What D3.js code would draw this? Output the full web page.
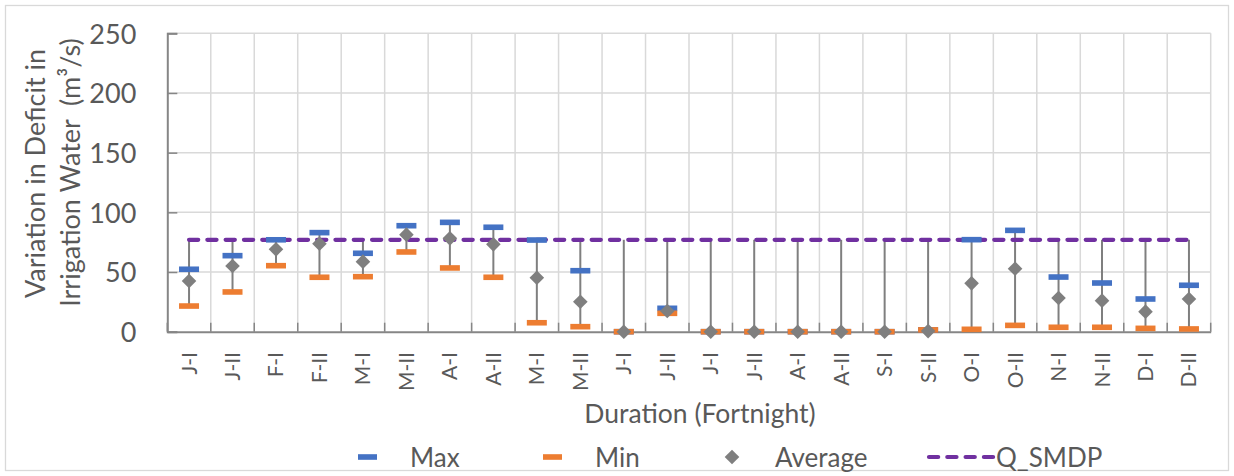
<!DOCTYPE html>
<html>
<head>
<meta charset="utf-8">
<script src="https://cdn.jsdelivr.net/npm/d3@7"></script>
<style>
  html, body { margin: 0; padding: 0; background: #fff; }
  svg { display: block; font-family: Lato, "Open Sans", sans-serif; }
  text { white-space: pre; }
</style>
</head>
<body>
<svg id="chart" width="1234" height="476"></svg>
<script>
const categories = ["J-I","J-II","F-I","F-II","M-I","M-II","A-I","A-II","M-I","M-II","J-I","J-II","J-I","J-II","A-I","A-II","S-I","S-II","O-I","O-II","N-I","N-II","D-I","D-II"];
const maxVals = [52.3,63.7,77,83,65.7,88.8,91.6,87.5,76.8,51.1,0,19.6,0,0,0,0,0,1.5,77.1,84.9,45.8,40.8,27.4,38.9];
const minVals = [21.5,33.3,55.3,45.6,46.1,66.8,53.4,45.6,7.5,4.2,0,15.4,0,0,0,0,0,1.5,2,5.3,3.7,3.7,2.8,2.3];
const avgVals = [42.5,55,69,73.7,58.7,81.3,78.2,73.2,45.2,25.1,0,17.3,0,0,0,0,0,0.5,40.5,52.8,28.2,26,16.8,27.4];
const qSmdp = [77,77,77,77,77,77,77,77,77,77,77,77,77,77,77,77,77,77,77,77,77,77,77,77];
const yTicks = [0,50,100,150,200,250];
const seriesNames = ["Max","Min","Average","Q_SMDP"];
const xTitle = "Duration (Fortnight)";
const yTitle1 = "Variation in Deficit in";
const yTitle2 = "Irrigation Water  (m\u00B3/s)";

(function () {
const svg = d3.select("#chart");
const txt = "#595959";
const grid = "#d9d9d9";
const axisCol = "#868686";
const cMax = "#4472C4", cMin = "#ED7D31", cAvg = "#7F7F7F", cQ = "#7030A0";

const pL = 167.3, pR = 1210.7, pT = 33.3, pB = 331.7;
const idx = categories.map((d, i) => i);
const n = categories.length;
const x = d3.scaleBand().domain(idx).range([pL, pR]).padding(0);
const y = d3.scaleLinear().domain([0, 250]).range([pB, pT]);
const cx = i => x(i) + x.bandwidth() / 2;
const bx = d => d < n ? x(d) : pR;

// chart border
svg.append("rect").attr("x", 5.5).attr("y", 5.5).attr("width", 1223).attr("height", 465)
  .attr("fill", "#fff").attr("stroke", grid).attr("stroke-width", 1.3);

// horizontal gridlines
svg.append("g").selectAll("line").data(yTicks.filter(t => t > 0)).join("line")
  .attr("x1", pL).attr("x2", pR).attr("y1", d => y(d)).attr("y2", d => y(d))
  .attr("stroke", grid).attr("stroke-width", 1.5);
// vertical gridlines at band boundaries
svg.append("g").selectAll("line").data(idx.slice(1).concat([n])).join("line")
  .attr("x1", bx).attr("x2", bx)
  .attr("y1", pT).attr("y2", pB)
  .attr("stroke", grid).attr("stroke-width", 1.5);

// y axis
const yAxis = svg.append("g").attr("transform", `translate(${pL},0)`)
  .call(d3.axisLeft(y).tickValues(yTicks).tickSize(-10).tickPadding(31));
yAxis.select(".domain").attr("stroke", axisCol).attr("stroke-width", 2);
yAxis.selectAll(".tick line").attr("stroke", axisCol).attr("stroke-width", 1.5);
yAxis.selectAll(".tick text").attr("fill", txt).attr("font-size", 27)
  .attr("font-family", "Lato, sans-serif").attr("dy", "0.36em");

// x axis
const xAxis = svg.append("g").attr("transform", `translate(0,${pB})`)
  .call(d3.axisBottom(x).tickFormat(i => categories[i]).tickSize(0));
xAxis.select(".domain").attr("stroke", axisCol).attr("stroke-width", 2);
xAxis.selectAll(".tick text")
  .attr("fill", txt).attr("font-size", 21).attr("font-family", "Lato, sans-serif")
  .attr("transform", "rotate(-90)").attr("text-anchor", "end")
  .attr("x", -20.3).attr("y", 7.5).attr("dy", 0);
// x boundary ticks (upward)
svg.append("g").selectAll("line").data(idx.concat([n])).join("line")
  .attr("x1", bx).attr("x2", bx)
  .attr("y1", pB).attr("y2", pB - 9)
  .attr("stroke", axisCol).attr("stroke-width", 1.5);

// high-low lines
svg.append("g").selectAll("line").data(idx).join("line")
  .attr("x1", cx).attr("x2", cx)
  .attr("y1", i => y(Math.max(maxVals[i], minVals[i], avgVals[i], qSmdp[i])))
  .attr("y2", i => y(Math.min(maxVals[i], minVals[i], avgVals[i], qSmdp[i])))
  .attr("stroke", "#7f7f7f").attr("stroke-width", 2);

// Q_SMDP line
svg.append("path").datum(idx)
  .attr("d", d3.line().x(cx).y(i => y(qSmdp[i])))
  .attr("fill", "none").attr("stroke", cQ).attr("stroke-width", 4.2)
  .attr("stroke-dasharray", "9.2,9.1").attr("stroke-linecap", "round");

const mw = 20, mh = 5.6;
// Max markers
svg.append("g").selectAll("rect").data(idx).join("rect")
  .attr("x", i => cx(i) - mw / 2).attr("y", i => y(maxVals[i]) - mh / 2)
  .attr("width", mw).attr("height", mh).attr("fill", cMax);
// Min markers
svg.append("g").selectAll("rect").data(idx).join("rect")
  .attr("x", i => cx(i) - mw / 2).attr("y", i => y(minVals[i]) - mh / 2)
  .attr("width", mw).attr("height", mh).attr("fill", cMin);
// Average diamonds
const dr = 7.3;
svg.append("g").selectAll("path").data(idx).join("path")
  .attr("d", i => { const px = cx(i), py = y(avgVals[i]);
    return `M${px},${py - dr}L${px + dr},${py}L${px},${py + dr}L${px - dr},${py}Z`; })
  .attr("fill", cAvg);

// axis titles
svg.append("text").attr("x", 700).attr("y", 423.3).attr("text-anchor", "middle")
  .attr("fill", txt).attr("font-size", 26.5).text(xTitle);
svg.append("text").attr("transform", "translate(45,173.5) rotate(-90)").attr("text-anchor", "middle")
  .attr("fill", txt).attr("font-size", 27).text(yTitle1);
svg.append("text").attr("transform", "translate(80,172.5) rotate(-90)").attr("text-anchor", "middle")
  .attr("fill", txt).attr("font-size", 27).text(yTitle2);

// legend
const ly = 457, lbase = 466.5;
const lg = svg.append("g");
lg.append("rect").attr("x", 358).attr("y", ly - mh / 2).attr("width", 19).attr("height", mh).attr("fill", cMax);
lg.append("text").attr("x", 410).attr("y", lbase).attr("fill", txt).attr("font-size", 26).text(seriesNames[0]);
lg.append("rect").attr("x", 543).attr("y", ly - mh / 2).attr("width", 19).attr("height", mh).attr("fill", cMin);
lg.append("text").attr("x", 595).attr("y", lbase).attr("fill", txt).attr("font-size", 26).text(seriesNames[1]);
lg.append("path").attr("d", `M732,${ly - 7.3}L739.3,${ly}L732,${ly + 7.3}L724.7,${ly}Z`).attr("fill", cAvg);
lg.append("text").attr("x", 775).attr("y", lbase).attr("fill", txt).attr("font-size", 26).text(seriesNames[2]);
lg.append("line").attr("x1", 929).attr("x2", 994).attr("y1", ly).attr("y2", ly)
  .attr("stroke", cQ).attr("stroke-width", 4.2).attr("stroke-dasharray", "9.2,9.1").attr("stroke-linecap", "round");
lg.append("text").attr("x", 996).attr("y", lbase).attr("fill", txt).attr("font-size", 26).text(seriesNames[3]);
})();
</script>
</body>
</html>
